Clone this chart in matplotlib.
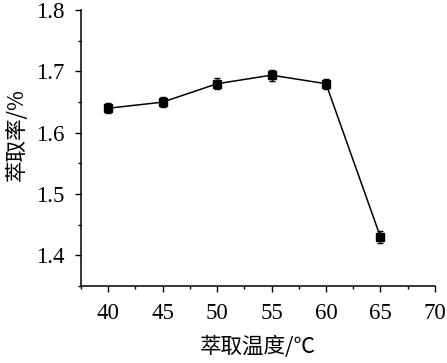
import matplotlib
matplotlib.use('Agg')
import matplotlib.pyplot as plt
from matplotlib.ticker import MultipleLocator

# data
temps = [40, 45, 50, 55, 60, 65]
rate = [1.640, 1.650, 1.680, 1.694, 1.680, 1.430]
err = [0.008, 0.008, 0.009, 0.009, 0.008, 0.010]

plt.rcParams['font.family'] = ['Liberation Serif', 'Noto Sans CJK SC']

fig = plt.figure(figsize=(4.47, 3.63), dpi=100)
ax = fig.add_axes([0.181, 0.212, 0.792, 0.760])

ax.errorbar(temps, rate, yerr=err, color='black', lw=1.1, marker='s', ms=5.5,
            capsize=2.5, elinewidth=1, capthick=1)

ax.set_xlim(37.5, 70)
ax.set_ylim(1.35, 1.8)
ax.xaxis.set_major_locator(MultipleLocator(5))
ax.xaxis.set_minor_locator(MultipleLocator(2.5))
ax.yaxis.set_major_locator(MultipleLocator(0.1))
ax.yaxis.set_minor_locator(MultipleLocator(0.05))
ax.spines['top'].set_visible(False)
ax.spines['right'].set_visible(False)
ax.spines['left'].set_linewidth(1.1)
ax.spines['bottom'].set_linewidth(1.1)
ax.tick_params(which='major', direction='out', length=4, width=1, labelsize=16.5)
ax.tick_params(axis='x', which='major', pad=8)
ax.tick_params(axis='y', which='major', pad=8)
ax.tick_params(which='minor', direction='out', length=2.5, width=1)
ax.set_yticks([1.4, 1.5, 1.6, 1.7, 1.8])
ax.set_yticklabels(['1.4', '1.5', '1.6', '1.7', '1.8'])

ax.set_xlabel('萃取温度/℃', fontsize=15.5, family=['Noto Sans CJK SC'], labelpad=9)
ax.set_ylabel('萃取率/%', fontsize=15.5, family=['Noto Sans CJK SC'])
ax.yaxis.set_label_coords(-0.15, 0.55)

fig.savefig('out.png', dpi=100)
